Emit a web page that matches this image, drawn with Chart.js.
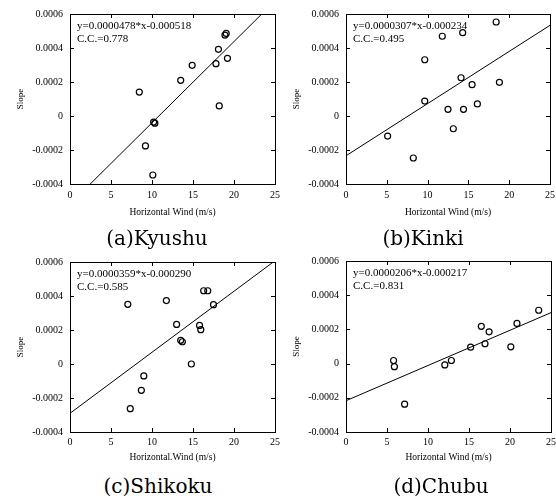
<!DOCTYPE html>
<html>
<head>
<meta charset="utf-8">
<script src="https://cdn.jsdelivr.net/npm/chart.js@4.4.0/dist/chart.umd.min.js"></script>
<style>
html, body { margin: 0; padding: 0; background: #fff; }
body { width: 556px; height: 499px; position: relative; overflow: hidden; }
canvas { position: absolute; }
.caption {
    position: absolute;
    font-family: 'DejaVu Serif', serif;
    font-size: 20px;
    color: #000;
    white-space: nowrap;
    transform: translate(-50%, -50%);
}
</style>
</head>
<body>
<canvas id="chart-a" width="285" height="225" style="left:0;top:0"></canvas>
<canvas id="chart-b" width="284" height="225" style="left:276px;top:0"></canvas>
<canvas id="chart-c" width="284" height="225" style="left:0;top:248px"></canvas>
<canvas id="chart-d" width="284" height="225" style="left:276px;top:248px"></canvas>
<div class="caption" style="left:157px;top:238px">(a)Kyushu</div>
<div class="caption" style="left:423px;top:238px">(b)Kinki</div>
<div class="caption" style="left:158px;top:486px">(c)Shikoku</div>
<div class="caption" style="left:441px;top:486px">(d)Chubu</div>
<script>
// Données
const xTickLabels = ['0', '5', '10', '15', '20', '25'];
const yTickLabels = ['-0.0004', '-0.0002', '0', '0.0002', '0.0004', '0.0006'];

const kyushuWind  = [8.45, 10.2, 10.35, 9.2, 10.1, 13.5, 14.9, 17.8, 18.1, 19.2, 18.9, 19.05, 18.2];
const kyushuSlope = [0.000141, -0.000036, -0.000042, -0.000176, -0.000347, 0.00021, 0.000298, 0.000308, 0.000392, 0.000339, 0.000476, 0.000486, 0.000059];

const kinkiWind  = [5.1, 8.25, 9.65, 9.65, 11.8, 12.5, 13.15, 14.1, 14.3, 14.4, 15.45, 16.1, 18.4, 18.8];
const kinkiSlope = [-0.000118, -0.000247, 0.000331, 0.000088, 0.000469, 0.000039, -0.000075, 0.000225, 0.00049, 0.000039, 0.000184, 0.000071, 0.000553, 0.000198];

const shikokuWind  = [7.05, 7.35, 8.7, 9.0, 11.75, 13.0, 13.5, 13.7, 14.8, 15.8, 15.95, 16.3, 16.8, 17.5];
const shikokuSlope = [0.000351, -0.000263, -0.000155, -0.00007, 0.000373, 0.000233, 0.000139, 0.000131, 0.0, 0.000227, 0.000202, 0.000431, 0.000431, 0.000349];

const chubuWind  = [5.8, 5.9, 7.15, 12.05, 12.85, 15.2, 16.5, 16.95, 17.45, 20.1, 20.85, 23.5];
const chubuSlope = [0.000018, -0.000018, -0.000237, -0.000008, 0.000018, 0.000096, 0.000218, 0.000116, 0.000186, 0.000098, 0.000235, 0.000312];

// Droites de régression (coefficients affichés sur la figure)
const fitSlopes     = [0.0000478, 0.0000307, 0.0000359, 0.0000206];
const fitIntercepts = [-0.000518, -0.000234, -0.000290, -0.000217];
const equationLabels = ['y=0.0000478*x-0.000518', 'y=0.0000307*x-0.000234', 'y=0.0000359*x-0.000290', 'y=0.0000206*x-0.000217'];
const ccLabels = ['C.C.=0.778', 'C.C.=0.495', 'C.C.=0.585', 'C.C.=0.831'];
const xTitles = ['Horizontal Wind (m/s)', 'Horizontal Wind (m/s)', 'Horizontal.Wind (m/s)', 'Horizontal Wind (m/s)'];

const SERIF = '"Liberation Serif", "Times New Roman", serif';

// Cadre avec graduations intérieures + texte de l'équation
const frameAndTicks = {
    id: 'frameAndTicks',
    afterDatasetsDraw(chart, args, opts) {
        const ctx = chart.ctx;
        const a = chart.chartArea;
        const x = chart.scales.x;
        const y = chart.scales.y;
        const len = 4;
        ctx.save();
        ctx.strokeStyle = '#000';
        ctx.lineWidth = 1;
        ctx.strokeRect(Math.round(a.left) + 0.5, Math.round(a.top) + 0.5,
            Math.round(a.right - a.left), Math.round(a.bottom - a.top));
        ctx.beginPath();
        x.ticks.forEach(t => {
            const px = Math.round(x.getPixelForValue(t.value)) + 0.5;
            ctx.moveTo(px, a.bottom); ctx.lineTo(px, a.bottom - len);
            ctx.moveTo(px, a.top); ctx.lineTo(px, a.top + len);
        });
        y.ticks.forEach(t => {
            const py = Math.round(y.getPixelForValue(t.value)) + 0.5;
            ctx.moveTo(a.left, py); ctx.lineTo(a.left + len, py);
            ctx.moveTo(a.right, py); ctx.lineTo(a.right - len, py);
        });
        ctx.stroke();
        ctx.fillStyle = '#000';
        ctx.font = '11px ' + SERIF;
        ctx.textBaseline = 'middle';
        ctx.textAlign = 'left';
        opts.lines.forEach((s, i) => ctx.fillText(s, a.left + 7, a.top + 12 + i * 13.5));
        ctx.restore();
    }
};

// Mise en page de chaque panneau
const panels = [
    { id: 'chart-a', wind: kyushuWind, slope: kyushuSlope, padTop: 14, xHeight: 41, tickPad: 5, titlePad: 6.6 },
    { id: 'chart-b', wind: kinkiWind, slope: kinkiSlope, padTop: 14, xHeight: 41, tickPad: 5, titlePad: 6.6 },
    { id: 'chart-c', wind: shikokuWind, slope: shikokuSlope, padTop: 14, xHeight: 41, tickPad: 4, titlePad: 9.6 },
    { id: 'chart-d', wind: chubuWind, slope: chubuSlope, padTop: 13, xHeight: 41, tickPad: 4, titlePad: 9.6 }
];

function makeChart(p, i) {
    const ctx = document.getElementById(p.id).getContext('2d');
    const points = p.wind.map((w, k) => ({ x: w, y: p.slope[k] }));
    const fitLine = [0, 25].map(w => ({ x: w, y: fitSlopes[i] * w + fitIntercepts[i] }));
    return new Chart(ctx, {
        type: 'scatter',
        data: {
            datasets: [{
                data: points,
                pointStyle: 'circle',
                pointRadius: 3,
                borderColor: '#000',
                backgroundColor: 'rgba(0,0,0,0)',
                borderWidth: 1.2
            }, {
                data: fitLine,
                showLine: true,
                pointRadius: 0,
                borderColor: '#000',
                borderWidth: 1,
                fill: false
            }]
        },
        options: {
            responsive: false,
            animation: false,
            events: [],
            devicePixelRatio: 1,
            layout: { padding: { top: p.padTop, right: 0, bottom: 0, left: 0 } },
            scales: {
                x: {
                    type: 'linear',
                    min: 0,
                    max: 25,
                    grid: { display: false, drawTicks: false },
                    border: { display: false },
                    afterFit: s => { s.height = p.xHeight; },
                    ticks: {
                        stepSize: 5,
                        autoSkip: false,
                        maxRotation: 0,
                        padding: p.tickPad,
                        color: '#000',
                        font: { family: SERIF, size: 10 },
                        callback: (v, k) => xTickLabels[k]
                    },
                    title: {
                        display: true,
                        text: xTitles[i],
                        color: '#000',
                        font: { family: SERIF, size: 9.5 },
                        padding: { top: 0, bottom: p.titlePad }
                    }
                },
                y: {
                    type: 'linear',
                    min: -0.0004,
                    max: 0.0006,
                    grid: { display: false, drawTicks: false },
                    border: { display: false },
                    afterFit: s => { s.width = 70; },
                    ticks: {
                        stepSize: 0.0002,
                        autoSkip: false,
                        padding: 7,
                        color: '#000',
                        font: { family: SERIF, size: 10 },
                        callback: (v, k) => yTickLabels[k]
                    },
                    title: {
                        display: true,
                        text: 'Slope',
                        color: '#000',
                        font: { family: SERIF, size: 9 },
                        padding: { top: 15.6, bottom: 0 }
                    }
                }
            },
            plugins: {
                legend: { display: false },
                tooltip: { enabled: false },
                frameAndTicks: { lines: [equationLabels[i], ccLabels[i]] }
            }
        },
        plugins: [frameAndTicks]
    });
}

panels.forEach(makeChart);
</script>
</body>
</html>
